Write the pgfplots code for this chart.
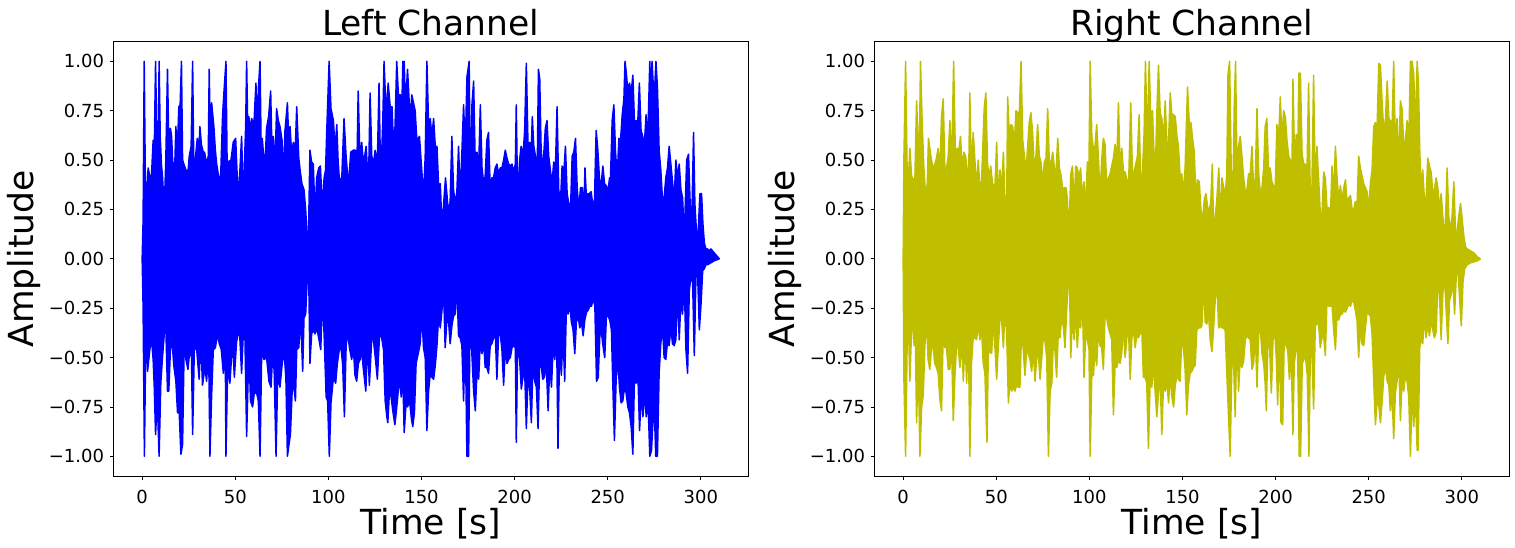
\documentclass[border=0pt]{standalone}
\usepackage{fontspec}
\setmainfont{DejaVu Sans}
\usepackage{pgfplots}
\pgfplotsset{compat=1.18}
\usepgfplotslibrary{fillbetween}
\definecolor{mplolive}{RGB}{191,191,0}
\pgfplotsset{
  wave/.style={
    scale only axis, width=317.5pt, height=217.2pt,
    xmin=-15.5, xmax=325.5, ymin=-1.1, ymax=1.1,
    axis line style={line width=0.4pt},
    every tick/.style={black, line width=0.4pt},
    tick align=outside, major tick length=1.75pt,
    xtick pos=bottom, ytick pos=left,
    xtick={0,50,100,150,200,250,300},
    xticklabels={0,50,100,150,200,250,300},
    ytick={-1,-0.75,-0.5,-0.25,0,0.25,0.5,0.75,1},
    yticklabels={−1.00,−0.75,−0.50,−0.25,0.00,0.25,0.50,0.75,1.00},
    ticklabel style={font=\fontsize{9pt}{10pt}\selectfont, inner sep=0pt},
    xticklabel style={anchor=north, yshift=-5.15pt},
    yticklabel style={anchor=east, xshift=-2.7pt},
    label style={font=\fontsize{17.25pt}{18pt}\selectfont, inner sep=0pt},
    title style={font=\fontsize{17.25pt}{18pt}\selectfont, inner sep=0pt, at={(axis description cs:0.5,1.0145)}, anchor=base, yshift=-6pt},
    xlabel={Time [s]}, ylabel={Amplitude},
    xlabel style={at={(axis description cs:0.5,-0.134)}, anchor=base},
    ylabel style={at={(axis description cs:-0.126,0.5)}, anchor=base},
  }
}
\begin{document}
\begin{tikzpicture}
\begin{axis}[wave, at={(56.65pt,-238pt)}, anchor=south west, title={Left Channel}]
\addplot[name path=lt, blue, line width=0.75pt, line join=round] coordinates {
(0,0)(0.5,0.19)(1.1,1)(1.7,0.40)(2.5,0.32)(3.2,0.46)(4.1,0.42)(5,0.42)(5.9,0.60)(6.5,0.55)(7.2,1)(7.7,0.70)(8.5,0.45)(9.1,1)(9.7,0.62)(10.4,0.47)(10.9,0.42)(11.6,0.30)(12.2,0.35)(12.7,0.50)(13.6,0.96)(14.3,0.58)(15.2,0.66)(15.8,0.62)(16.7,0.43)(17.6,0.50)(18.1,0.67)(18.8,0.53)(19.7,0.77)(20.4,0.78)(21.1,1)(21.7,0.50)(22.4,0.48)(23.5,0.45)(24.6,0.44)(25.3,0.52)(26.3,0.57)(27.1,1)(27.7,0.48)(28.3,0.48)(29.6,0.61)(30.5,0.55)(31,0.67)(31.8,0.58)(32.8,0.54)(33.5,0.54)(34.6,0.48)(35.5,0.52)(36,0.96)(36.6,0.60)(37.3,0.79)(38.5,0.67)(39.3,0.55)(40,0.48)(41,0.42)(42.1,0.40)(43.2,0.73)(43.9,0.84)(45,1)(45.6,0.50)(46.2,0.49)(47.7,0.50)(48.9,0.59)(50.2,0.61)(50.9,0.45)(51.6,0.31)(52.5,0.45)(53.4,0.62)(54.3,0.30)(55,0.50)(55.6,0.68)(56.1,1)(56.8,0.60)(57.3,0.72)(58,0.65)(58.8,0.71)(60,0.68)(61.1,0.89)(61.8,0.62)(62.4,0.86)(63.3,1)(63.9,0.55)(64.5,0.61)(65.8,0.45)(66.3,0.55)(66.8,0.66)(67.9,0.72)(69,0.85)(69.7,0.55)(70.4,0.62)(71.3,0.47)(72.2,0.76)(73.1,0.70)(74,0.67)(75.1,0.60)(75.8,0.40)(76.7,0.65)(78,0.79)(78.7,0.60)(79.4,0.67)(80.3,0.53)(81.2,0.59)(82.2,0.55)(83,0.77)(84.1,0.51)(84.8,0.45)(85.8,0.38)(86.9,0.35)(87.8,0.25)(88.4,0.14)(89.2,0.06)(90.1,0.55)(91,0.49)(91.9,0.48)(92.8,0.22)(93.7,0.41)(94.8,0.46)(95.7,0.47)(96.3,0.35)(96.8,0.25)(97.7,0.41)(98.5,0.45)(99.1,0.64)(100.4,1)(101.4,0.76)(102.7,0.70)(103.6,0.55)(104.5,0.68)(105.2,0.50)(105.9,0.40)(107.2,0.41)(108.4,0.71)(109.5,0.52)(110.8,0.37)(112,0.54)(113.4,0.55)(114.5,0.55)(115.3,0.45)(116,0.85)(117,0.48)(117.9,0.59)(118.8,0.48)(120.3,0.57)(121.5,0.35)(122.4,0.84)(123.3,0.52)(124.2,0.48)(125.1,0.55)(126.3,0.49)(127.2,0.89)(128.1,0.39)(129.2,0.69)(129.9,1)(131,0.73)(132.1,0.89)(133.2,0.77)(134.2,0.77)(134.9,0.58)(135.8,0.67)(136.7,1)(137.6,0.83)(138.7,0.83)(139.3,0.70)(140,1)(140.4,0.80)(140.7,1)(141.4,0.77)(142.5,0.96)(143.9,0.70)(144.8,0.83)(145.7,0.79)(146.6,0.75)(147.5,0.60)(148.9,0.62)(150.2,0.44)(151.1,0.32)(152,0.52)(152.9,1)(153.8,0.68)(154.7,0.71)(155.6,0.62)(156.5,0.71)(157.4,0.57)(158.3,0.57)(159.2,0.37)(160.1,0.38)(161,0.16)(161.9,0.28)(162.9,0.41)(164.5,0.23)(165.4,0.29)(166.3,0.62)(167.2,0.35)(168.1,0.28)(169,0.34)(169.9,0.57)(170.8,0.31)(171.7,0.54)(172.6,0.78)(173.5,0.55)(174.4,0.92)(175.6,1)(176.2,0.36)(177.1,0.78)(178,0.90)(178.9,0.46)(179.8,0.54)(180.7,0.46)(181.6,0.78)(182.5,0.46)(183.4,0.38)(184.2,0.42)(185.1,0.60)(186,0.64)(186.9,0.35)(187.8,0.41)(188.7,0.41)(189.6,0.46)(190.5,0.48)(191.4,0.43)(192.3,0.46)(193.2,0.46)(194.1,0.50)(195,0.55)(195.9,0.51)(196.8,0.48)(197.7,0.47)(198.6,0.48)(199.5,0.44)(200.4,0.48)(200.9,0.78)(201.6,0.31)(202.7,0.50)(203.5,0.57)(204.6,0.53)(205.4,0.65)(206.3,0.99)(207.2,0.57)(208.1,0.59)(209,0.56)(209.5,0.72)(210.3,0.57)(211.2,0.52)(212.1,0.41)(212.8,0.96)(213.5,0.91)(214.2,0.57)(214.9,0.45)(215.6,0.52)(216.5,0.66)(217.4,0.70)(218.3,0.52)(219.2,0.45)(220.1,0.38)(221,0.49)(221.9,0.45)(222.8,0.77)(223.7,0.35)(224.6,0.28)(225.5,0.47)(226.4,0.43)(227.3,0.57)(228.2,0.33)(229.1,0.28)(230,0.24)(230.9,0.52)(231.8,0.54)(232.7,0.61)(233.6,0.36)(234.5,0.25)(235.4,0.36)(236.3,0.36)(237.2,0.25)(237.8,0.46)(238.7,0.28)(239.3,0.33)(240.2,0.33)(241.1,0.34)(242,0.27)(242.9,0.30)(243.8,0.65)(244.7,0.55)(245.6,0.40)(246.5,0.38)(247.4,0.47)(248.3,0.38)(249.2,0.37)(250.1,0.34)(251,0.41)(251.5,0.41)(252.4,0.70)(253.3,0.78)(254.2,0.54)(255.1,0.41)(256,0.61)(256.9,0.60)(257.8,0.73)(258.7,0.81)(259.3,1)(260,0.94)(260.8,0.85)(261.7,0.89)(262.6,0.84)(263.5,0.93)(264.4,0.68)(265.2,0.70)(266.1,0.68)(267,0.89)(267.9,0.65)(268.8,0.62)(269.7,0.58)(270.6,0.73)(271.5,0.60)(272.6,1)(273.3,0.80)(273.8,1)(274.9,0.80)(275.9,1)(276.7,0.87)(277.6,0.55)(278.5,0.45)(279.4,0.30)(280.3,0.31)(281.2,0.41)(282.1,0.46)(283,0.57)(283.9,0.48)(284.8,0.39)(285.7,0.30)(286.6,0.50)(287.5,0.41)(288.4,0.48)(289.3,0.35)(290.2,0.31)(291.1,0.11)(292.4,0.50)(293.4,0.53)(294.3,0.27)(295.2,0.21)(296.1,0.64)(296.8,0.28)(297.7,0.13)(298.6,0.14)(299.5,0.33)(300.4,0.33)(301.1,0.18)(301.9,0.08)(302.7,0.05)(303.6,0.05)(304.5,0.04)(305.4,0.05)(307.2,0.03)(309,0.01)(310,0)
};
\addplot[name path=lb, blue, line width=0.75pt, line join=round] coordinates {
(0,0)(0.5,-0.24)(1.2,-1)(2,-0.36)(2.9,-0.57)(4.1,-0.46)(5,-0.40)(5.9,-0.51)(6.5,-0.65)(7.2,-0.89)(8.1,-0.71)(9.1,-1)(10,-0.63)(10.9,-0.50)(11.8,-0.39)(12.5,-0.27)(13.6,-0.67)(14.3,-0.67)(15.2,-0.45)(16.3,-0.45)(17,-0.54)(18.1,-0.62)(19,-0.78)(19.9,-0.78)(20.8,-0.99)(21.7,-0.94)(22.6,-0.41)(23.5,-0.51)(24.6,-0.56)(25.6,-0.46)(26.5,-0.50)(27.1,-0.89)(28,-0.46)(29.2,-0.45)(30.6,-0.61)(31.5,-0.40)(32.4,-0.64)(33.7,-0.55)(34.6,-0.62)(35.7,-0.45)(36.4,-1)(37.3,-0.69)(38.2,-0.46)(39.3,-0.45)(40.5,-0.38)(41.4,-0.43)(42.5,-0.46)(43.6,-0.58)(44.6,-0.40)(45,-1)(45.9,-0.55)(47.1,-0.63)(48.6,-0.41)(49.5,-0.60)(50.7,-0.42)(52.2,-0.35)(53.4,-0.58)(54.3,-0.38)(55.2,-0.40)(56.1,-0.90)(57.3,-0.46)(58.2,-0.72)(59.3,-0.75)(60.2,-0.68)(61.5,-0.68)(62.4,-0.72)(63.3,-1)(64.2,-0.46)(65.4,-0.51)(66.8,-0.50)(68.1,-0.62)(69.2,-0.65)(70.1,-0.48)(70.9,-0.57)(71.9,-1)(72.8,-0.58)(74,-0.65)(75.1,-0.54)(76.2,-0.46)(77.2,-0.61)(78,-1)(78.7,-0.95)(79.6,-0.89)(80.5,-0.68)(81.2,-0.62)(82.3,-0.72)(83,-0.46)(84.1,-0.45)(85.1,-0.29)(86.2,-0.57)(86.9,-0.30)(87.8,-0.28)(88.7,-0.09)(89.4,-0.06)(90.1,-0.53)(91,-0.38)(91.9,-0.36)(92.8,-0.38)(93.7,-0.35)(94.8,-0.40)(95.9,-0.46)(96.8,-0.20)(97.7,-0.38)(98.8,-0.70)(99.6,-0.72)(100.5,-1)(101.4,-0.73)(102.7,-0.60)(103.9,-0.63)(104.8,-0.53)(105.7,-0.47)(106.6,-0.43)(107.7,-0.54)(108.6,-0.80)(109.5,-0.45)(110.2,-0.36)(111.3,-0.45)(112.5,-0.51)(113.4,-0.45)(114.3,-0.59)(115.2,-0.62)(116.1,-0.53)(117,-0.51)(117.9,-0.47)(118.8,-0.56)(120.1,-0.67)(121.1,-0.41)(122,-0.64)(123.3,-0.40)(124.2,-0.41)(125.3,-0.51)(126.3,-0.61)(127.4,-0.40)(128.3,-0.38)(129.6,-0.46)(130.5,-0.72)(131.4,-0.80)(131.9,-0.83)(132.8,-0.67)(133.7,-0.70)(134.6,-0.77)(135.7,-0.84)(136.4,-0.78)(137.3,-0.69)(138.2,-0.60)(139.1,-0.70)(140,-0.60)(140.7,-0.88)(141.8,-0.72)(142.5,-0.75)(143.6,-0.72)(144.6,-0.81)(145.3,-0.85)(146.2,-0.78)(147.1,-0.53)(148,-0.49)(149.3,-0.43)(150.2,-0.28)(151.1,-0.45)(152,-0.50)(152.9,-0.87)(153.8,-0.67)(154.7,-0.58)(155.6,-0.60)(156.5,-0.61)(157.4,-0.54)(158.3,-0.44)(159.2,-0.29)(160.1,-0.35)(161,-0.26)(161.9,-0.16)(162.7,-0.45)(163.6,-0.32)(164.5,-0.31)(165.4,-0.43)(166.3,-0.34)(167.2,-0.29)(168.1,-0.28)(169,-0.13)(169.9,-0.39)(170.8,-0.40)(171.7,-0.44)(172.6,-0.72)(173.5,-0.36)(174.4,-1)(175.3,-1)(176.2,-0.21)(177.1,-0.49)(178,-0.67)(178.9,-0.77)(179.8,-0.57)(180.7,-0.61)(181.6,-0.41)(182.5,-0.48)(183.4,-0.42)(184.2,-0.55)(185.1,-0.55)(186,-0.58)(186.9,-0.44)(187.8,-0.43)(188.7,-0.40)(189.6,-0.37)(190.5,-0.61)(191.4,-0.38)(192.3,-0.38)(193.2,-0.46)(194.1,-0.64)(195,-0.45)(195.9,-0.53)(196.8,-0.51)(197.7,-0.50)(198.6,-0.45)(199.5,-0.44)(200.4,-0.45)(200.9,-0.93)(201.6,-0.45)(202.7,-0.51)(203.6,-0.66)(204.5,-0.60)(205.4,-0.56)(206.3,-0.86)(207.2,-0.59)(208.1,-0.66)(209,-0.83)(209.9,-0.51)(210.8,-0.62)(211.7,-0.65)(212.6,-0.86)(213.5,-0.50)(214.2,-0.53)(215.1,-0.61)(216,-0.60)(216.9,-0.51)(218,-0.77)(218.9,-0.53)(219.8,-0.65)(220.7,-0.44)(221.6,-0.51)(222.5,-0.35)(223.3,-0.96)(224.2,-0.43)(225.1,-0.59)(226,-0.38)(226.9,-0.62)(227.8,-0.25)(228.7,-0.28)(229.6,-0.23)(230.5,-0.32)(231.4,-0.36)(232.3,-0.48)(233.2,-0.32)(234.1,-0.29)(235,-0.35)(235.9,-0.32)(236.8,-0.39)(237.7,-0.31)(238.6,-0.27)(239.5,-0.26)(240.4,-0.24)(241.3,-0.24)(242.2,-0.20)(243.1,-0.24)(244,-0.62)(244.9,-0.60)(245.8,-0.38)(246.7,-0.38)(247.6,-0.45)(248.4,-0.50)(249.3,-0.29)(250.2,-0.29)(251.1,-0.31)(252,-0.36)(252.9,-0.69)(253.6,-0.92)(254.5,-0.62)(255.4,-0.50)(256.3,-0.65)(257.2,-0.73)(258.1,-0.72)(259,-0.65)(259.9,-0.68)(260.8,-0.75)(261.7,-0.78)(262.6,-0.85)(263.5,-0.99)(264.4,-0.58)(265.3,-0.63)(266.2,-0.58)(267.1,-0.87)(268,-0.68)(268.9,-0.80)(269.8,-0.68)(270.7,-0.80)(271.6,-0.70)(272.6,-1)(273.5,-0.97)(274.9,-0.72)(275.8,-1)(276.7,-1)(277.6,-0.58)(278.5,-0.43)(279.4,-0.34)(280.3,-0.50)(281.2,-0.51)(282.1,-0.42)(283,-0.44)(283.9,-0.35)(284.8,-0.43)(285.7,-0.44)(286.6,-0.41)(287.5,-0.16)(288.4,-0.41)(289.3,-0.21)(290.2,-0.28)(291.1,-0.11)(292,-0.46)(292.9,-0.58)(293.8,-0.16)(294.7,-0.09)(295.6,-0.12)(296.5,-0.49)(297.4,-0.08)(298.3,-0.08)(299.2,-0.36)(300.1,-0.23)(301,-0.06)(301.9,-0.05)(302.7,-0.03)(303.6,-0.03)(305.4,-0.02)(307.2,-0.01)(310,0)
};
\addplot[blue] fill between[of=lt and lb];
\end{axis}
\begin{axis}[wave, at={(437.15pt,-238pt)}, anchor=south west, title={Right Channel}]
\addplot[name path=rt, mplolive, line width=0.75pt, line join=round] coordinates {
(0,0)(0.4,0.51)(1.3,1)(2.2,0.39)(3,0.44)(3.6,0.56)(4.5,0.42)(5.4,0.40)(6.3,0.41)(7.2,0.80)(8.1,0.57)(8.6,0.46)(9.3,1)(10.2,0.69)(11.1,0.46)(12,0.33)(12.9,0.37)(13.6,0.61)(14.7,0.53)(15.6,0.48)(16.5,0.46)(17.9,0.51)(18.8,0.56)(19.7,0.43)(20.6,0.72)(21.5,0.81)(22.4,0.45)(23.3,0.46)(24.2,0.52)(25.1,0.70)(26,0.45)(27.1,1)(28,0.54)(29,0.56)(29.9,0.55)(30.8,0.62)(31.7,0.45)(32.6,0.54)(33.5,0.52)(34.4,0.45)(35.1,0.36)(35.8,0.84)(36.7,0.40)(37.6,0.64)(38.5,0.50)(39.4,0.36)(40.3,0.50)(41.2,0.36)(42.1,0.39)(43.5,0.76)(44.4,0.84)(45.3,0.48)(46.2,0.41)(47,0.47)(48,0.38)(49.3,0.37)(50.2,0.59)(51.1,0.31)(52,0.45)(52.9,0.35)(53.8,0.54)(54.7,0.28)(55.6,0.30)(56.1,0.82)(57,0.62)(57.9,0.68)(58.8,0.67)(59.7,0.58)(60.6,0.75)(61.5,0.74)(62.4,0.74)(63.3,1)(64.2,0.60)(65.1,0.52)(66,0.45)(66.8,0.56)(67.7,0.69)(68.6,0.74)(69.5,0.64)(70.4,0.45)(71.3,0.52)(72.2,0.68)(73.1,0.52)(74,0.49)(74.9,0.38)(75.8,0.49)(76.7,0.51)(77.6,0.76)(78.5,0.48)(79.4,0.49)(80.3,0.54)(81.2,0.46)(82.1,0.44)(83,0.61)(83.9,0.46)(84.8,0.42)(85.7,0.35)(86.6,0.36)(87.5,0.36)(88.2,0.30)(88.9,0.09)(90,0.43)(90.9,0.47)(91.8,0.28)(92.7,0.47)(93.5,0.46)(94.4,0.41)(95.3,0.46)(96.2,0.31)(97.1,0.39)(98,0.25)(98.9,0.49)(99.8,0.49)(100.4,1)(101.3,0.62)(102.2,0.55)(103,0.57)(103.9,0.68)(104.8,0.52)(105.7,0.31)(106.6,0.50)(107.5,0.61)(108.4,0.58)(109.3,0.36)(110.2,0.41)(111.1,0.43)(112,0.47)(112.9,0.51)(113.8,0.58)(114.7,0.48)(115.6,0.79)(116.5,0.45)(117.4,0.56)(118.3,0.44)(119.2,0.44)(120.1,0.40)(121,0.36)(122.2,0.79)(123.3,0.36)(124,0.44)(124.9,0.48)(125.8,0.52)(126.7,0.73)(127.6,0.36)(128.5,0.44)(129.4,0.64)(130.1,1)(131.2,0.58)(132.1,1)(133,0.69)(133.9,0.75)(134.6,0.55)(135.5,0.48)(136.2,0.73)(137.1,0.98)(138,0.74)(138.9,0.71)(139.8,0.59)(140.7,0.80)(141.6,0.58)(142.5,0.59)(143.4,0.84)(144.3,0.73)(145.2,0.73)(146.1,0.72)(147,0.62)(147.8,0.57)(148.7,0.42)(149.6,0.43)(150.5,0.33)(151.4,0.46)(152.7,0.87)(153.6,0.69)(154.5,0.69)(155.4,0.61)(156.3,0.54)(157.2,0.31)(158.1,0.40)(159,0.39)(159.9,0.25)(160.8,0.19)(161.7,0.30)(162.6,0.33)(163.5,0.26)(164.3,0.24)(165.2,0.29)(166,0.48)(166.7,0.14)(167.6,0.21)(168.5,0.31)(169.5,0.46)(170.3,0.18)(171.2,0.41)(172.1,0.36)(173,0.33)(173.8,0.43)(174.4,0.93)(175.3,1)(176.2,0.43)(177.1,0.36)(177.8,0.78)(178.5,1)(179.2,0.49)(180.1,0.57)(181,0.62)(181.9,0.52)(182.8,0.41)(183.7,0.34)(184.6,0.35)(185.5,0.43)(186.4,0.43)(187.3,0.57)(188.2,0.35)(189.1,0.41)(190,0.76)(190.9,0.43)(191.8,0.33)(192.7,0.36)(193.6,0.46)(194.4,0.67)(195.3,0.71)(196.2,0.45)(197.1,0.46)(198,0.39)(198.9,0.37)(199.8,0.36)(200.7,0.68)(201.6,0.60)(202.5,0.82)(203.4,0.60)(204.3,0.75)(205.2,0.72)(206.1,0.60)(207,0.52)(207.9,0.50)(208.8,0.47)(209.3,0.91)(210.2,0.48)(211.1,0.63)(211.8,0.46)(212.5,0.94)(213.3,0.94)(214.2,0.53)(215.1,0.48)(215.9,0.48)(216.8,0.41)(217.7,0.89)(218.6,0.33)(219.5,0.35)(220.4,0.93)(221.3,0.35)(222.2,0.57)(223.1,0.40)(224,0.23)(224.9,0.22)(225.8,0.44)(226.7,0.41)(227.6,0.25)(228.5,0.26)(229.4,0.21)(230.3,0.47)(231.2,0.31)(232.1,0.57)(233,0.41)(233.9,0.30)(234.8,0.37)(235.7,0.29)(236.6,0.36)(237.5,0.40)(238.4,0.28)(239.3,0.31)(240.2,0.32)(241.1,0.25)(242,0.25)(242.8,0.29)(243.7,0.26)(244.6,0.52)(245.5,0.46)(246.4,0.42)(247.3,0.38)(248.2,0.36)(249.1,0.34)(250,0.25)(250.9,0.38)(251.8,0.45)(252.7,0.67)(253.6,0.69)(254.5,0.66)(255.4,0.99)(256.3,0.98)(257.2,0.79)(258.1,0.64)(259,0.71)(259.9,0.90)(260.8,0.71)(261.6,0.70)(262.5,0.65)(263.4,1)(264.3,0.57)(265.2,0.71)(266.1,0.46)(267,0.80)(267.9,0.76)(268.8,0.57)(269.7,0.60)(270.6,0.70)(271.5,0.57)(272.4,1)(273.3,1)(274.2,0.93)(275.1,0.65)(276,1)(276.7,0.89)(277.4,0.55)(278.1,0.35)(279,0.45)(279.9,0.30)(280.8,0.30)(281.7,0.51)(282.6,0.47)(283.5,0.44)(284.4,0.34)(285.3,0.35)(286.2,0.41)(287.1,0.36)(288,0.25)(288.9,0.33)(289.8,0.21)(290.7,0.08)(291.6,0.30)(292.1,0.46)(293,0.21)(293.9,0.14)(294.8,0.22)(295.7,0.39)(296.6,0.14)(297.5,0.14)(298.4,0.22)(299.3,0.28)(300.2,0.20)(301.1,0.11)(302,0.06)(302.9,0.05)(304.7,0.04)(306.5,0.03)(308.3,0.01)(310,0)
};
\addplot[name path=rb, mplolive, line width=0.75pt, line join=round] coordinates {
(0,0)(0.4,-0.61)(1.3,-1)(2.2,-0.38)(3,-0.39)(3.6,-0.62)(4.5,-0.36)(5.4,-0.36)(5.9,-0.44)(6.6,-0.43)(7.2,-0.83)(8.1,-0.51)(9,-1)(9.9,-0.75)(10.8,-0.69)(11.6,-0.45)(12.5,-0.30)(13.4,-0.51)(14.3,-0.56)(15.2,-0.45)(16.1,-0.45)(17,-0.53)(17.9,-0.55)(18.8,-0.58)(19.7,-0.71)(20.6,-0.77)(21.5,-0.37)(22.4,-0.45)(23.3,-0.45)(24.2,-0.56)(25.1,-0.56)(26,-0.43)(26.9,-0.82)(27.8,-0.59)(28.7,-0.43)(29.6,-0.45)(30.5,-0.55)(31.4,-0.40)(32.3,-0.62)(33.2,-0.40)(34.1,-0.63)(35,-0.35)(35.8,-1)(36.7,-0.53)(37.6,-0.40)(38.5,-0.40)(39.4,-0.41)(40.3,-0.33)(41.2,-0.41)(42.1,-0.35)(43,-0.53)(43.9,-0.58)(45,-0.93)(45.7,-0.48)(46.6,-0.47)(47.5,-0.48)(48.4,-0.31)(49.3,-0.45)(50.2,-0.61)(51.1,-0.44)(52,-0.30)(52.9,-0.31)(53.8,-0.45)(54.7,-0.25)(55.6,-0.38)(56.5,-0.73)(57.3,-0.62)(58.2,-0.67)(59.1,-0.65)(60,-0.67)(60.9,-0.64)(61.8,-0.65)(62.7,-0.65)(63.6,-0.35)(64.5,-0.46)(65.4,-0.59)(66.3,-0.46)(67.2,-0.48)(68.1,-0.51)(69,-0.57)(69.9,-0.46)(70.8,-0.62)(71.7,-0.50)(72.6,-0.48)(73.5,-0.61)(74.4,-0.50)(75.3,-0.39)(76.2,-0.42)(77.1,-0.50)(78,-1)(78.9,-0.67)(79.8,-0.63)(80.6,-0.43)(81.5,-0.46)(82.4,-0.60)(83.3,-0.37)(84.2,-0.40)(85.1,-0.30)(86,-0.34)(86.9,-0.45)(87.8,-0.26)(88.7,-0.09)(89.2,-0.05)(90,-0.50)(90.9,-0.29)(91.8,-0.41)(92.7,-0.26)(93.5,-0.45)(94.4,-0.31)(95.3,-0.35)(96.2,-0.17)(97.1,-0.60)(98,-0.38)(98.9,-0.41)(99.8,-0.46)(100.4,-1)(101.3,-0.59)(102.2,-0.59)(103,-0.45)(103.9,-0.54)(104.8,-0.36)(105.7,-0.44)(106.6,-0.45)(107.5,-0.56)(108.4,-0.29)(109.3,-0.30)(110.2,-0.35)(111.1,-0.38)(112,-0.41)(112.9,-0.79)(113.8,-0.54)(114.7,-0.55)(115.6,-0.51)(116.5,-0.53)(117.4,-0.47)(118.3,-0.35)(119.2,-0.50)(120.1,-0.40)(121,-0.35)(121.9,-0.61)(122.8,-0.40)(123.7,-0.36)(124.6,-0.45)(125.4,-0.39)(126.3,-0.40)(127.2,-0.38)(128.1,-0.34)(129,-0.60)(129.9,-0.60)(130.8,-0.63)(131.7,-0.96)(132.6,-0.63)(133.5,-0.65)(134.4,-0.53)(135.3,-0.67)(136.2,-0.80)(137.1,-0.68)(138,-0.60)(138.9,-0.89)(139.8,-0.63)(140.7,-0.67)(141.6,-0.62)(142.5,-0.73)(143.4,-0.58)(144.3,-0.70)(145.2,-0.75)(146.1,-0.64)(147,-0.59)(147.8,-0.61)(148.7,-0.62)(149.6,-0.40)(150.5,-0.45)(151.4,-0.56)(152.3,-0.79)(153.2,-0.64)(154.1,-0.58)(155,-0.57)(155.9,-0.55)(156.8,-0.54)(157.7,-0.36)(158.6,-0.35)(159.5,-0.35)(160.4,-0.34)(161.3,-0.12)(162.2,-0.32)(163.1,-0.33)(163.9,-0.27)(164.9,-0.41)(165.8,-0.47)(166.7,-0.35)(167.6,-0.20)(168.5,-0.13)(169.4,-0.35)(170.3,-0.34)(171.2,-0.35)(172,-0.35)(172.9,-0.36)(173.8,-0.58)(174.7,-0.79)(175.6,-1)(176.5,-0.53)(177.4,-0.51)(178.3,-0.80)(179.2,-0.37)(180.1,-0.67)(181,-0.50)(181.9,-0.55)(182.8,-0.52)(183.7,-0.41)(184.6,-0.39)(185.5,-0.40)(186.4,-0.41)(187.3,-0.56)(188.2,-0.53)(189.1,-0.37)(190,-0.65)(190.9,-0.38)(191.8,-0.35)(192.7,-0.48)(193.6,-0.53)(194.4,-0.63)(195,-0.77)(195.9,-0.40)(196.8,-0.45)(197.7,-0.68)(198.6,-0.41)(199.5,-0.36)(200.4,-0.51)(201.1,-0.74)(202,-0.41)(202.9,-0.83)(203.8,-0.84)(204.7,-0.36)(205.6,-0.44)(206.5,-0.46)(207.4,-0.61)(208.3,-0.45)(209.3,-0.89)(210,-0.53)(210.9,-0.46)(211.8,-0.47)(212.7,-1)(213.4,-1)(214.3,-0.53)(215.2,-0.51)(216.1,-0.50)(217,-0.59)(217.9,-1)(218.6,-0.50)(219.5,-0.48)(220.4,-0.76)(221.3,-0.34)(222.2,-0.33)(223.1,-0.33)(224,-0.45)(224.9,-0.40)(225.8,-0.39)(226.7,-0.49)(227.6,-0.20)(228.5,-0.24)(229.4,-0.24)(230.3,-0.23)(231.2,-0.36)(232.1,-0.46)(233,-0.28)(233.9,-0.31)(234.8,-0.28)(235.7,-0.28)(236.6,-0.26)(237.5,-0.27)(238.4,-0.25)(239.3,-0.23)(240.2,-0.24)(241.1,-0.21)(242,-0.22)(242.8,-0.26)(243.7,-0.31)(244.6,-0.50)(245.5,-0.35)(246.4,-0.43)(247.3,-0.44)(248.2,-0.35)(249.1,-0.27)(250,-0.28)(250.9,-0.29)(251.8,-0.38)(252.7,-0.62)(253.6,-0.84)(254.5,-0.72)(255.4,-0.74)(256.3,-0.83)(257.2,-0.72)(258.1,-0.59)(259,-0.55)(259.9,-0.62)(260.8,-0.64)(261.6,-0.77)(262.5,-0.67)(263.4,-0.91)(264.3,-0.68)(265.2,-0.62)(266.1,-0.50)(267,-0.82)(267.9,-0.62)(268.8,-0.67)(269.7,-0.59)(270.6,-0.62)(271.5,-0.70)(272.4,-1)(273.3,-0.67)(274.2,-0.85)(275.1,-0.67)(276,-0.97)(276.5,-0.97)(277.4,-0.45)(278.1,-0.40)(279,-0.43)(279.9,-0.29)(280.8,-0.40)(281.7,-0.33)(282.6,-0.39)(283.5,-0.31)(284.4,-0.36)(285.3,-0.40)(286.2,-0.37)(287.1,-0.13)(288,-0.18)(288.9,-0.41)(289.8,-0.17)(290.7,-0.10)(291.6,-0.26)(292.5,-0.43)(293.4,-0.21)(294.3,-0.18)(295.2,-0.11)(296.1,-0.28)(297,-0.09)(297.9,-0.05)(298.8,-0.20)(299.7,-0.34)(300.6,-0.12)(301.5,-0.05)(302.9,-0.03)(304.7,-0.02)(308.3,-0.01)(310,0)
};
\addplot[mplolive] fill between[of=rt and rb];
\end{axis}
\pgfresetboundingbox
\useasboundingbox (0,0) rectangle (757.5pt,-273.5pt);
\end{tikzpicture}
\end{document}
